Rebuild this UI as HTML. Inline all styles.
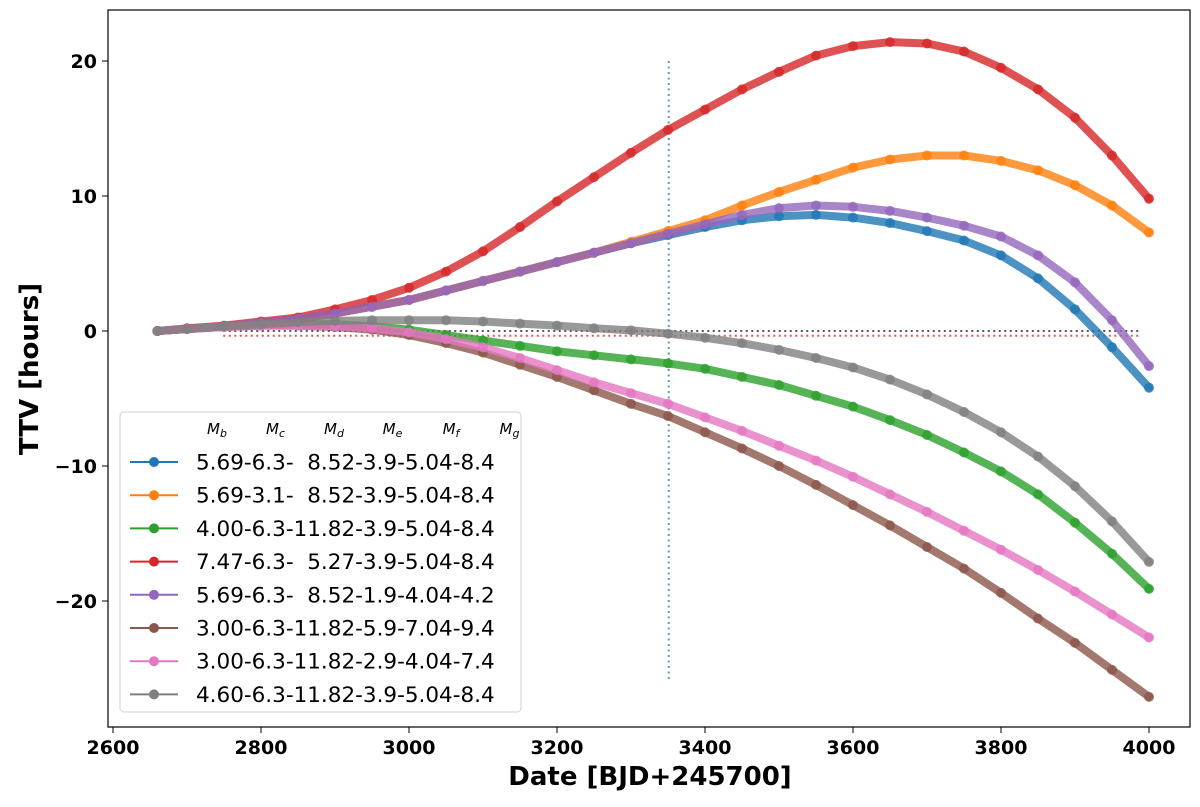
<!DOCTYPE html>
<html><head><meta charset="utf-8"><style>
body{margin:0;background:#fff;}
svg text{font-family:"DejaVu Sans","Liberation Sans",sans-serif;}
</style></head><body>
<svg id="chart" width="1200" height="802" xmlns="http://www.w3.org/2000/svg">
<rect width="1200" height="802" fill="#fff"/>
<g id="refs"></g>
<g id="series"></g>
<rect x="108" y="10" width="1082" height="717" fill="none" stroke="#000" stroke-width="1.2"/>
<g id="ticks"></g>
<text x="650" y="785" text-anchor="middle" font-size="26" font-weight="bold">Date [BJD+245700]</text>
<text transform="translate(38,369) rotate(-90)" text-anchor="middle" font-size="26" font-weight="bold">TTV [hours]</text>
<g id="legend"></g>
</svg>
<script>
const dates=[2660,2700,2750,2800,2850,2900,2950,3000,3050,3100,3150,3200,3250,3300,3350,3400,3450,3500,3550,3600,3650,3700,3750,3800,3850,3900,3950,4000];
const blue  =[0,0.15,0.35,0.6,0.9,1.3,1.8,2.3,3.0,3.7,4.4,5.1,5.8,6.5,7.1,7.7,8.2,8.5,8.6,8.4,8.0,7.4,6.7,5.6,3.9,1.6,-1.2,-4.2];
const orange=[0,0.15,0.35,0.6,0.9,1.3,1.8,2.3,3.0,3.7,4.4,5.1,5.8,6.6,7.4,8.2,9.3,10.3,11.2,12.1,12.7,13.0,13.0,12.6,11.9,10.8,9.3,7.3];
const green =[0,0.15,0.3,0.45,0.5,0.5,0.35,0.1,-0.3,-0.7,-1.1,-1.5,-1.8,-2.1,-2.4,-2.8,-3.4,-4.0,-4.8,-5.6,-6.6,-7.7,-9.0,-10.4,-12.1,-14.2,-16.5,-19.1];
const red   =[0,0.2,0.4,0.7,1.0,1.6,2.3,3.2,4.4,5.9,7.7,9.6,11.4,13.2,14.9,16.4,17.9,19.2,20.4,21.1,21.4,21.3,20.7,19.5,17.9,15.8,13.0,9.8];
const purple=[0,0.15,0.35,0.6,0.9,1.3,1.8,2.3,3.0,3.7,4.4,5.1,5.8,6.5,7.2,7.9,8.6,9.1,9.3,9.2,8.9,8.4,7.8,7.0,5.6,3.6,0.8,-2.6];
const brown =[0,0.15,0.3,0.4,0.4,0.3,0.1,-0.3,-0.9,-1.6,-2.5,-3.4,-4.4,-5.4,-6.3,-7.5,-8.7,-10.0,-11.4,-12.9,-14.4,-16.0,-17.6,-19.4,-21.3,-23.1,-25.1,-27.1];
const pink  =[0,0.15,0.3,0.4,0.4,0.35,0.2,-0.1,-0.6,-1.2,-2.0,-2.9,-3.8,-4.6,-5.4,-6.4,-7.4,-8.5,-9.6,-10.8,-12.1,-13.4,-14.8,-16.2,-17.7,-19.3,-21.0,-22.7];
const gray  =[0,0.15,0.35,0.5,0.65,0.75,0.8,0.8,0.8,0.7,0.55,0.4,0.2,0.05,-0.2,-0.5,-0.9,-1.4,-2.0,-2.7,-3.6,-4.7,-6.0,-7.5,-9.3,-11.5,-14.1,-17.1];
const seriesList=[blue,orange,green,red,purple,brown,pink,gray];
const colors=["#1f77b4","#ff7f0e","#2ca02c","#d62728","#9467bd","#8c564b","#e377c2","#7f7f7f"];
const labels=["5.69-6.3-  8.52-3.9-5.04-8.4","5.69-3.1-  8.52-3.9-5.04-8.4","4.00-6.3-11.82-3.9-5.04-8.4","7.47-6.3-  5.27-3.9-5.04-8.4","5.69-6.3-  8.52-1.9-4.04-4.2","3.00-6.3-11.82-5.9-7.04-9.4","3.00-6.3-11.82-2.9-4.04-7.4","4.60-6.3-11.82-3.9-5.04-8.4"];
const xTicks=[2600,2800,3000,3200,3400,3600,3800,4000];
const yTicks=[-20,-10,0,10,20];
const headers=["M_b","M_c","M_d","M_e","M_f","M_g"];
const X=d=>113+(d-2600)*0.74;
const Y=v=>331-v*13.5;
const NS="http://www.w3.org/2000/svg";
function mk(t,a,p){const e=document.createElementNS(NS,t);for(const k in a)e.setAttribute(k,a[k]);p.appendChild(e);return e;}
const refs=document.getElementById('refs');
let l=mk('line',{x1:X(3351),x2:X(3351),y1:Y(20),y2:Y(-26),stroke:'#5a9ac0','stroke-width':2,'stroke-dasharray':'2,3.5'},refs);


l=mk('line',{x1:X(2749),x2:X(3988),y1:Y(0),y2:Y(0),stroke:'#555','stroke-width':2,'stroke-dasharray':'2,3.5'},refs);


l=mk('line',{x1:X(2749),x2:X(3988),y1:Y(-0.35),y2:Y(-0.35),stroke:'#f05050','stroke-width':2,'stroke-dasharray':'2,3.5'},refs);


const sg=document.getElementById('series');
seriesList.forEach((s,i)=>{
 const g=mk('g',{},sg);
 
 
 const pts=s.map((v,j)=>X(dates[j])+','+Y(v)).join(' ');
 mk('polyline',{points:pts,fill:'none',stroke:colors[i],'stroke-width':8,'stroke-linejoin':'round','stroke-linecap':'round',opacity:0.8},g);
 s.forEach((v,j)=>{const c=mk('circle',{cx:X(dates[j]),cy:Y(v),r:5,fill:colors[i],opacity:0.8},g);
 
 });
});
const tg=document.getElementById('ticks');
xTicks.forEach(t=>{mk('line',{x1:X(t),x2:X(t),y1:727,y2:733,stroke:'#000'},tg);
 const tx=mk('text',{x:X(t),y:754,'text-anchor':'middle','font-size':19,'font-weight':'bold'},tg);tx.textContent=t;
 
 });
yTicks.forEach(t=>{mk('line',{x1:102,x2:108,y1:Y(t),y2:Y(t),stroke:'#000'},tg);
 const tx=mk('text',{x:97,y:Y(t)+7,'text-anchor':'end','font-size':19,'font-weight':'bold'},tg);tx.textContent=t<0?'\u2212'+(-t):t;
 
 });
const lg=document.getElementById('legend');
mk('rect',{x:120,y:412,width:401,height:300,rx:4,fill:'#fff','fill-opacity':0.85,stroke:'#d0d0d0'},lg);
headers.forEach((h,i)=>{const tx=mk('text',{x:217+i*58.5,y:434,'text-anchor':'middle','font-size':15,'font-style':'italic'},lg);
 tx.innerHTML=h[0]+'<tspan font-size="11" dy="3">'+h[2]+'</tspan>';
 
 });
labels.forEach((lab,i)=>{const y=462+i*33.2;
 const g=mk('g',{},lg);
 
 
 mk('line',{x1:130,x2:178,y1:y,y2:y,stroke:colors[i],'stroke-width':2},g);
 mk('circle',{cx:154,cy:y,r:5,fill:colors[i]},g);
 const tx=mk('text',{x:196,y:y+7.5,'font-size':21.5,'xml:space':'preserve'},g);
 tx.style.whiteSpace='pre';tx.textContent=lab;});
</script>
</body></html>
